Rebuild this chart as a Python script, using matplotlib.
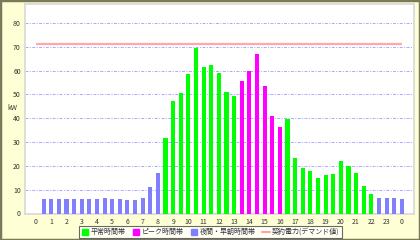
import numpy as np
import matplotlib.pyplot as plt
from matplotlib.patches import Rectangle

plt.rcParams['font.family'] = ['Noto Sans CJK JP', 'DejaVu Sans']

# half-hour slots, 0:30 .. 24:00
hours = np.arange(1, 49) * 0.5
# kW per slot
usage = [6.1, 5.9, 6.2, 6.0, 6.1, 6.0, 6.0, 5.9, 6.6, 6.3, 6.0, 5.6, 5.5, 6.6, 11.0, 17.1,
         31.6, 47.3, 50.5, 58.5, 69.6, 61.5, 62.3, 58.9, 50.9, 49.4,
         55.6, 59.9, 66.8, 53.4, 40.8, 36.4,
         39.6, 23.5, 19.3, 17.8, 15.0, 16.0, 16.8, 22.0, 19.9, 16.9, 11.6, 8.1,
         6.4, 6.6, 6.4, 6.1]
# 0 = night/early morning, 1 = normal, 2 = peak
band = [0] * 16 + [1] * 10 + [2] * 6 + [1] * 12 + [0] * 4
contract = 71
tick_labels = [str(h % 24) for h in range(25)]

band_names = ['夜間・早朝時間帯', '平常時間帯', 'ピーク時間帯']
band_colors = ['#8080ff', '#00ff00', '#ff00ff']

fig = plt.figure(figsize=(4.2, 2.4), dpi=100)
fig.patch.set_facecolor('#ffffd6')
fig.patches.append(Rectangle((0, 0), 1, 1, transform=fig.transFigure,
                             fill=False, edgecolor='#7a7a5a', linewidth=2.5))

ax = fig.add_axes([25 / 420, 26.5 / 240, 389 / 420, 209.5 / 240])
ax.set_facecolor('white')
for s in ax.spines.values():
    s.set_color('#d8d8d8')
    s.set_linewidth(1.2)

colors = [band_colors[b] for b in band]
ax.bar(hours, usage, width=0.27, color=colors, zorder=3)
ax.hlines(contract, 0, 24, color='#ffa8a8', linewidth=1.6, zorder=4)

ax.set_xlim(-0.72, 24.8)
ax.set_ylim(0, 88)
ax.set_xticks(range(25))
ax.set_xticklabels(tick_labels)
ax.set_yticks(range(0, 81, 10))
ax.tick_params(length=0, labelsize=5, colors='#333333', pad=3)
ax.yaxis.grid(True, color='#a8a8ff', linestyle=(0, (3, 1.5, 1, 1.5)), linewidth=0.7)
ax.set_axisbelow(True)

fig.text(7 / 420, 1 - 108 / 240, 'kW', fontsize=5, color='#333333', va='center')

handles = [
    plt.Line2D([], [], marker='s', linestyle='none', color=band_colors[1], markersize=4),
    plt.Line2D([], [], marker='s', linestyle='none', color=band_colors[2], markersize=4),
    plt.Line2D([], [], marker='s', linestyle='none', color=band_colors[0], markersize=4),
    plt.Line2D([], [], color='#ff9090', linewidth=1.2),
]
labels = [band_names[1], band_names[2], band_names[0], '契約電力(デマンド値)']
leg = fig.legend(handles, labels, loc='center', bbox_to_anchor=(210 / 420, 1 - 232 / 240),
                 ncol=4, fontsize=5, frameon=True, fancybox=False, borderpad=0.3,
                 handlelength=1.2, handletextpad=0.3, columnspacing=0.8)
leg.get_frame().set_edgecolor('#444444')
leg.get_frame().set_linewidth(0.8)
for t in leg.get_texts():
    t.set_color('#333333')

fig.savefig('out.png', dpi=100, facecolor=fig.get_facecolor())
